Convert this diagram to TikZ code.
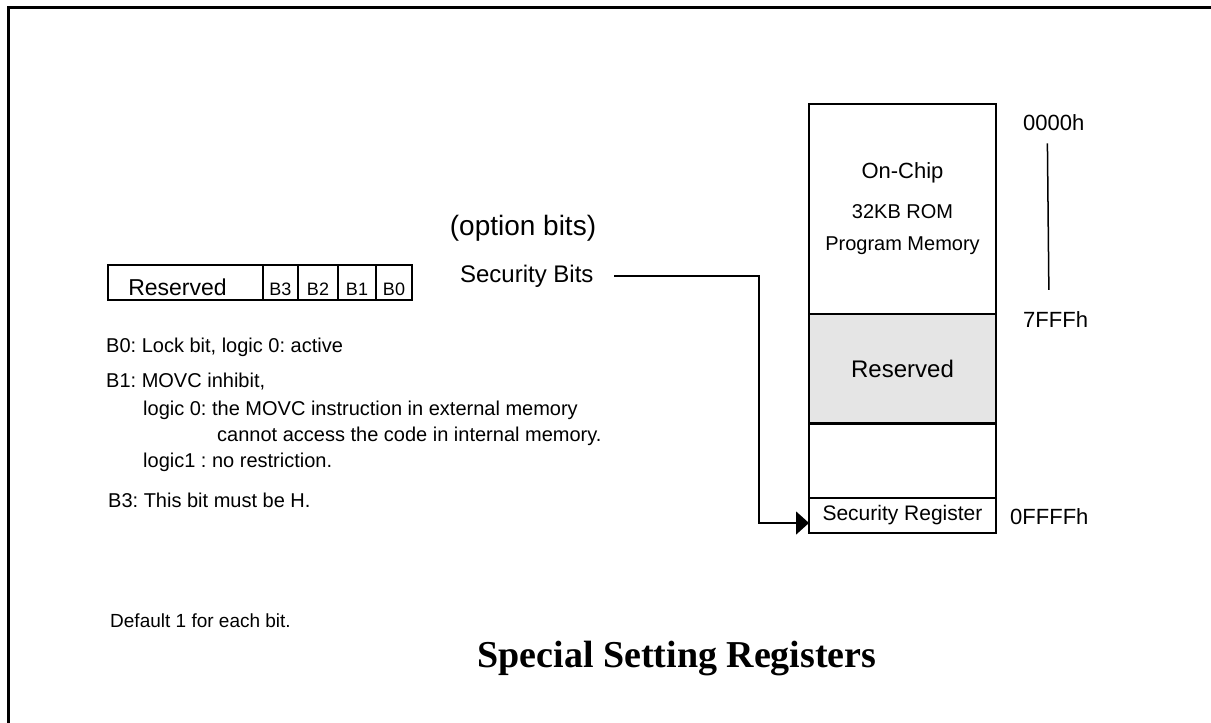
\documentclass[tikz,border=0pt]{standalone}
\usepackage{fontspec}
\setmainfont{Liberation Sans}
\newfontfamily\titlefont{Liberation Serif}
\usetikzlibrary{positioning,arrows.meta}
\frenchspacing

\begin{document}
\begin{tikzpicture}[x=1pt, y=-1pt,
    regcell/.style={draw, rectangle, line width=1.5pt, minimum height=35pt, text height=25pt, text depth=0pt, inner ysep=5pt, inner xsep=0pt, outer sep=0pt},
    memblock/.style={draw, rectangle, line width=1.5pt, minimum width=187pt, inner sep=0pt, outer sep=0pt},
    note/.style={anchor=base west, inner sep=0pt, font=\fontsize{20}{24}\selectfont},
    addr/.style={anchor=west, inner sep=0pt, font=\fontsize{22}{26}\selectfont}]
    \useasboundingbox (0,0) rectangle (1211,723);
    \fill[white] (0,0) rectangle (1211,723);
    \draw[line width=3pt] (1211,7) -- (8.5,7) -- (8.5,723);

    % Register
    \node[regcell, minimum width=155pt, anchor=north west, font=\fontsize{23}{26}\selectfont] (resv) at (108,265) {Reserved\hspace*{16pt}};
    \node[regcell, minimum width=35pt, right=0pt of resv, font=\fontsize{18}{20}\selectfont] (bthree) {B3};
    \node[regcell, minimum width=40pt, right=0pt of bthree, font=\fontsize{18}{20}\selectfont] (btwo) {B2};
    \node[regcell, minimum width=38pt, right=0pt of btwo, font=\fontsize{18}{20}\selectfont] (bone) {B1};
    \node[regcell, minimum width=36pt, right=0pt of bone, font=\fontsize{18}{20}\selectfont] (bzero) {B0};

    % Notes
    \node[note] (notezero) at (106,352) {B0: Lock bit, logic 0: active};
    \node[note] (noteone) at (106,387) {B1: MOVC inhibit,};
    \node[note] (noteonea) at (143,415) {logic 0: the MOVC instruction in external memory};
    \node[note] (noteoneb) at (217,441) {cannot access the code in internal memory.};
    \node[note] (noteonec) at (143,467) {logic1 : no restriction.};
    \node[note] (notethree) at (108,507) {B3: This bit must be H.};
    \node[note, font=\fontsize{19}{22}\selectfont] (default) at (110,627) {Default 1 for each bit.};

    \node[font=\fontsize{28}{32}\selectfont] (option) at (523,228) {(option bits)};
    \node[anchor=base east, font=\fontsize{24}{28}\selectfont] (secbits) at (597,282) {Security Bits};

    % Memory map
    \node[memblock, minimum height=210pt, anchor=north west, align=center, font=\fontsize{20}{26}\selectfont] (onchip) at (809,104)
        {{\fontsize{22}{26}\selectfont On-Chip}\\[14pt]32KB ROM\\[6pt]Program Memory};
    \node[memblock, minimum height=109pt, below=0pt of onchip, fill=gray!20, font=\fontsize{24}{28}\selectfont] (reserved) {Reserved};
    \node[memblock, minimum height=75pt, below=0pt of reserved] (blank) {};
    \node[memblock, minimum height=35pt, below=0pt of blank, font=\fontsize{21}{24}\selectfont] (secreg) {Security Register};
    \draw[line width=3pt] (reserved.south west) -- (reserved.south east);

    \node[addr] (addr0) at (1023,123) {0000h};
    \node[addr] (addr7) at (1023,320) {7FFFh};
    \node[addr] (addrf) at (1010,517) {0FFFFh};
    \draw[line width=1.5pt, shorten <=12pt, shorten >=22pt] ([xshift=-6.5pt]addr0.south) -- ([xshift=-6.5pt]addr7.north);

    % Arrows
    \coordinate (bend) at (759,400);
    \draw[line width=1.5pt, -{Triangle[length=13pt,width=23pt]}, shorten <=17pt] (secbits.east) -| (bend) |- ([yshift=-7.5pt]secreg.west);

    \node[anchor=base, font=\titlefont\bfseries\fontsize{38}{44}\selectfont] (title) at (677,667) {Special Setting Registers};
\end{tikzpicture}
\end{document}
